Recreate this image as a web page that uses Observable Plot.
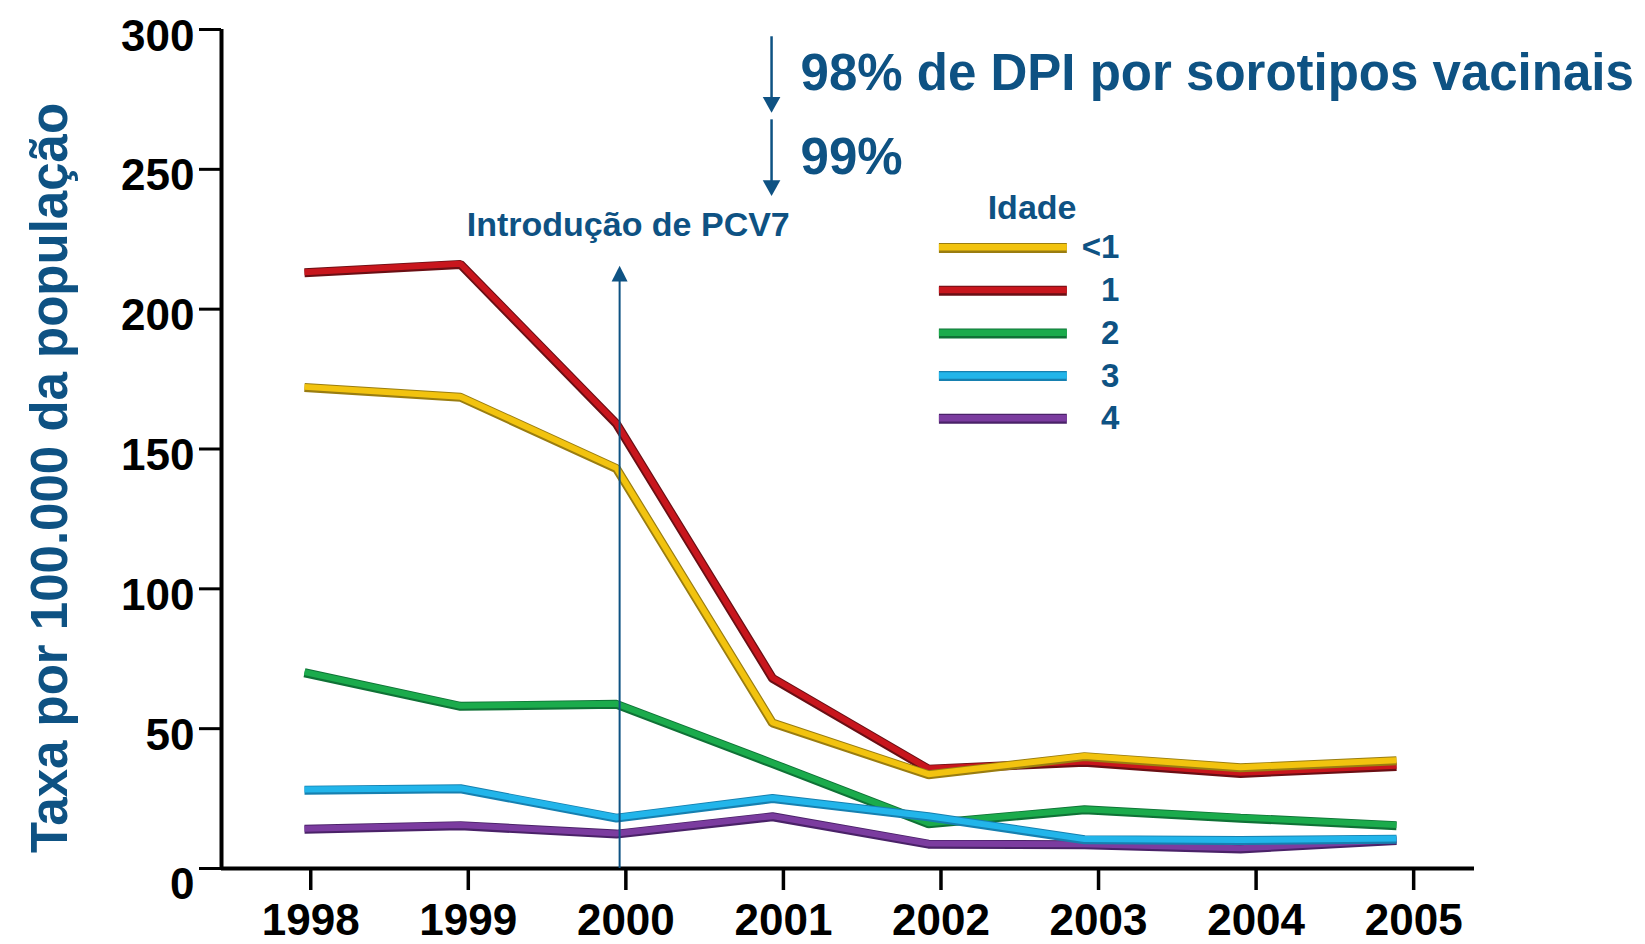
<!DOCTYPE html>
<html>
<head>
<meta charset="utf-8">
<script src="https://cdn.jsdelivr.net/npm/d3@7"></script>
<script src="https://cdn.jsdelivr.net/npm/@observablehq/plot@0.6"></script>
<style>
  html, body { margin: 0; padding: 0; background: #ffffff; }
  #chart svg { display: block; }
</style>
</head>
<body>
<div id="chart"></div>
<script>
// ---- data ----
const years = [1998, 1999, 2000, 2001, 2002, 2003, 2004, 2005];
const ageGroups = ["<1", "1", "2", "3", "4"];
const rateUnder1 = [172, 168.5, 143, 52, 33.5, 40, 36, 38.5];
const rateAge1   = [213, 216, 159, 68, 35.5, 38, 34, 36.5];
const rateAge2   = [70, 58, 58.7, 37.5, 16, 21, 18, 15.3];
const rateAge3   = [28, 28.5, 18, 25, 18.5, 10.3, 10, 10.5];
const rateAge4   = [14, 15.3, 12.3, 18.5, 8.7, 8.5, 7, 10];
const yTicks = [0, 50, 100, 150, 200, 250, 300];
const yTitle = "Taxa por 100.000 da população";
const noteTop = "98% de DPI por sorotipos vacinais";
const noteSecond = "99%";
const noteVaccine = "Introdução de PCV7";
const legendTitle = "Idade";

// ---- styles ----
const blue = "#0e5283";
const lineColors = {"<1": "#f2c30f", "1": "#c8161d", "2": "#1bab4c", "3": "#22b5ea", "4": "#7b3c9f"};
const edgeColors = {"<1": "#9a7d10", "1": "#6a0f14", "2": "#0f7236", "3": "#1680b0", "4": "#4a2268"};
const font = "'Liberation Sans', Arial, Helvetica, sans-serif";

const seriesByAge = {"<1": rateUnder1, "1": rateAge1, "2": rateAge2, "3": rateAge3, "4": rateAge4};
const drawOrder = ["2", "4", "3", "1", "<1"];
const rows = drawOrder.flatMap(age => years.map((yr, i) => ({age, year: yr, rate: seriesByAge[age][i]})));

const xDomain = [1997.468, 2005.5];
const tickPositions = years.map(yr => yr + 0.04 + 0.01 * (yr - 1998));

const triUp = {draw(ctx, size) { const s = Math.sqrt(size / Math.PI); const h = s * 2.6, w = s * 1.33;
  ctx.moveTo(0, 0); ctx.lineTo(-w, h); ctx.lineTo(w, h); ctx.closePath(); }};
const triDown = {draw(ctx, size) { const s = Math.sqrt(size / Math.PI); const h = s * 2.5, w = s * 1.4;
  ctx.moveTo(0, 0); ctx.lineTo(-w, -h); ctx.lineTo(w, -h); ctx.closePath(); }};

const legendY = (d, i) => 221.9 - i * 15.28;

const lineMarks = drawOrder.flatMap(age => {
  const data = rows.filter(r => r.age === age);
  return [
    Plot.line(data, {x: "year", y: "rate", stroke: edgeColors[age], strokeWidth: 9, strokeLinejoin: "miter", strokeLinecap: "butt"}),
    Plot.line(data, {x: "year", y: "rate", stroke: lineColors[age], strokeWidth: 6, strokeLinejoin: "miter", strokeLinecap: "butt", dy: -0.6})
  ];
});

const chart = Plot.plot({
  width: 1645,
  height: 944,
  marginLeft: 221,
  marginRight: 171,
  marginTop: 29,
  marginBottom: 76,
  style: {fontFamily: font, background: "#ffffff", color: "black"},
  x: {domain: xDomain},
  y: {domain: [0, 300]},
  marks: [
    // axes ticks and labels
    Plot.axisY(yTicks, {anchor: "left", tickSize: 22, strokeWidth: 3, stroke: "black", fill: "none", label: null}),
    Plot.axisY(yTicks.filter(v => v > 0), {anchor: "left", tickSize: 0, tickPadding: 27, dy: 7, fontSize: 44, fontWeight: "bold", fill: "black", label: null}),
    Plot.axisY([0], {anchor: "left", tickSize: 0, tickPadding: 27, dy: 16, fontSize: 44, fontWeight: "bold", fill: "black", label: null}),
    Plot.axisX(tickPositions, {anchor: "bottom", tickSize: 22, tickPadding: 13, strokeWidth: 3.5, stroke: "black", fill: "black",
      tickFormat: d => String(Math.round(d)), fontSize: 44, fontWeight: "bold", label: null}),
    Plot.ruleX([xDomain[0]], {stroke: "black", strokeWidth: 4}),
    Plot.ruleY([0], {stroke: "black", strokeWidth: 4}),

    // data lines
    ...lineMarks,

    // vaccine introduction arrow
    Plot.ruleX([2000.02], {y1: 0, y2: 212, stroke: blue, strokeWidth: 2}),
    Plot.dot([2000.02], {x: d => d, y: 215.5, symbol: triUp, r: 6, fill: blue, stroke: "none"}),
    Plot.text([noteVaccine], {x: 1999.04, y: 226.2, text: d => d, textAnchor: "start", lineAnchor: "bottom",
      fontSize: 34, fontWeight: "bold", fill: blue}),

    // top arrows and notes
    Plot.ruleX([2000.994], {y1: 297.4, y2: 273, stroke: blue, strokeWidth: 2.5}),
    Plot.dot([2000.994], {x: d => d, y: 270.2, symbol: triDown, r: 6.3, fill: blue, stroke: "none"}),
    Plot.ruleX([2000.994], {y1: 267.7, y2: 243, stroke: blue, strokeWidth: 2.5}),
    Plot.dot([2000.994], {x: d => d, y: 240.5, symbol: triDown, r: 6.3, fill: blue, stroke: "none"}),
    Plot.text([noteTop], {x: 2001.18, y: 278.4, text: d => d, textAnchor: "start", lineAnchor: "bottom",
      fontSize: 51, fontWeight: "bold", fill: blue}),
    Plot.text([noteSecond], {x: 2001.18, y: 248.4, text: d => d, textAnchor: "start", lineAnchor: "bottom",
      fontSize: 51, fontWeight: "bold", fill: blue}),

    // legend
    Plot.text([legendTitle], {x: 2002.664, y: 232.3, text: d => d, textAnchor: "middle", lineAnchor: "bottom",
      fontSize: 34, fontWeight: "bold", fill: blue}),
    Plot.ruleY(ageGroups, {y: legendY, x1: 2002.07, x2: 2002.89, stroke: d => edgeColors[d], strokeWidth: 10}),
    Plot.ruleY(ageGroups, {y: legendY, x1: 2002.07, x2: 2002.89, stroke: d => lineColors[d], strokeWidth: 6.5, dy: -0.6}),
    Plot.text(ageGroups, {x: 2003.224, y: legendY, text: d => d, textAnchor: "end", lineAnchor: "middle",
      fontSize: 33, fontWeight: "bold", fill: blue}),

    // y-axis title
    Plot.text([yTitle], {frameAnchor: "left", text: d => d, rotate: -90, dx: -155, dy: 29, textAnchor: "middle",
      lineAnchor: "bottom", fontSize: 51, fontWeight: "bold", fill: blue})
  ]
});

document.getElementById("chart").appendChild(chart);
</script>
</body>
</html>
